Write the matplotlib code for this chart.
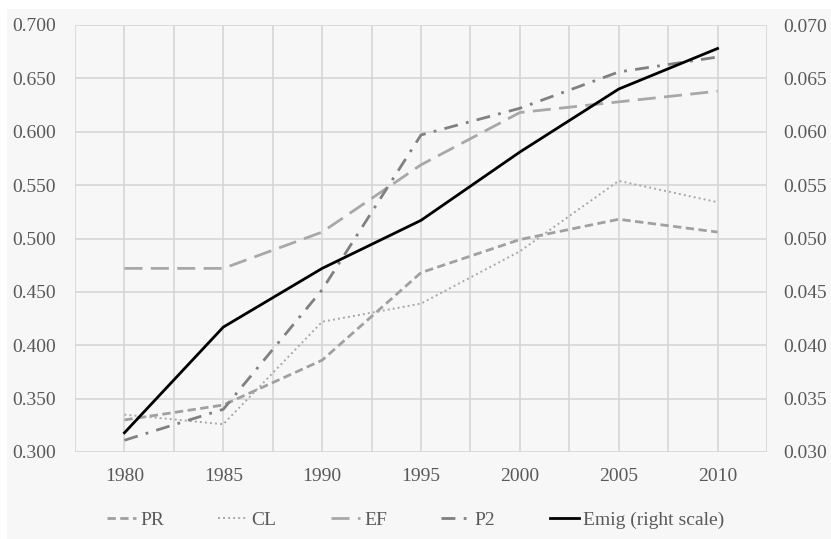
import matplotlib
matplotlib.use("Agg")
import matplotlib.pyplot as plt
from matplotlib.patches import Rectangle
from matplotlib.ticker import FormatStrFormatter, MultipleLocator

years = ["1980", "1985", "1990", "1995", "2000", "2005", "2010"]
PR = [0.330, 0.344, 0.386, 0.468, 0.499, 0.518, 0.506]
CL = [0.335, 0.326, 0.422, 0.439, 0.488, 0.554, 0.534]
EF = [0.472, 0.472, 0.506, 0.569, 0.618, 0.628, 0.638]
P2 = [0.311, 0.340, 0.452, 0.597, 0.622, 0.656, 0.670]
Emig = [0.0318, 0.0417, 0.0472, 0.0517, 0.0581, 0.0640, 0.0678]

plt.rcParams['font.family'] = ['Liberation Serif', 'DejaVu Serif']
txt = '#595959'
grid_c = '#d6d6d6'
FS = 14

fig = plt.figure(figsize=(8.31, 5.39), dpi=100)
fig.patch.set_facecolor('white')
fig.patches.append(Rectangle((7/831, 0), 1 - 7/831, 1 - 9/539, transform=fig.transFigure,
                             facecolor='#f7f7f7', edgecolor='none', zorder=-10))

ax = fig.add_axes([75/831, 1 - 452/539, (767 - 75)/831, (452 - 25)/539])
ax.set_facecolor('#f7f7f7')
x = list(range(len(years)))

l1, = ax.plot(x, PR, color='#a0a0a0', lw=2.0, linestyle=(0, (3, 1.6)), label='PR')
l2, = ax.plot(x, CL, color='#a8a8a8', lw=1.4, linestyle=(0, (1, 1.6)), label='CL')
l3, = ax.plot(x, EF, color='#a8a8a8', lw=2.0, linestyle=(0, (6.5, 3)), label='EF')
l4, = ax.plot(x, P2, color='#808080', lw=2.0, linestyle=(0, (5, 3, 1, 3)), label='P2')

ax.set_xlim(-0.5, 6.5)
ax.set_ylim(0.3, 0.7)
ax.set_xticks(x)
ax.set_xticklabels(years)
ax.xaxis.set_minor_locator(MultipleLocator(0.5))
ax.yaxis.set_major_locator(MultipleLocator(0.05))
ax.yaxis.set_major_formatter(FormatStrFormatter('%.3f'))
ax.grid(True, which='both', axis='x', color=grid_c, lw=1.2)
ax.grid(True, which='major', axis='y', color=grid_c, lw=1.2)
ax.set_axisbelow(True)
for s in ax.spines.values():
    s.set_visible(False)
ax.tick_params(which='both', length=0, labelsize=FS, colors=txt)
ax.tick_params(axis='y', pad=14)
ax.tick_params(axis='x', pad=11.5)

ax2 = ax.twinx()
l5, = ax2.plot(x, Emig, color='black', lw=2.0, label='Emig (right scale)')
ax2.set_ylim(0.03, 0.07)
ax2.yaxis.set_major_locator(MultipleLocator(0.005))
ax2.yaxis.set_major_formatter(FormatStrFormatter('%.3f'))
for s in ax2.spines.values():
    s.set_visible(False)
ax2.tick_params(length=0, labelsize=FS, colors=txt, pad=11.5)

leg = fig.legend(handles=[l1, l2, l3, l4, l5], loc='center',
                 bbox_to_anchor=(0.5, 1 - 520/539), ncol=5, frameon=False,
                 fontsize=FS, handlelength=1.5, handletextpad=0.2, columnspacing=2.8)
for t in leg.get_texts():
    t.set_color(txt)

fig.savefig('out.png', dpi=100, facecolor=fig.get_facecolor())
